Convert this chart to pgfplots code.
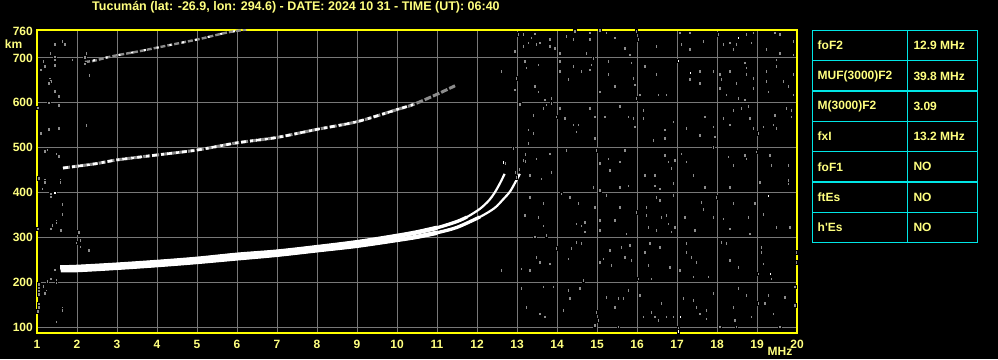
\documentclass[border=0pt]{standalone}
\usepackage{fontspec}
\setmainfont{Liberation Sans}
\newfontfamily\lab{Liberation Sans}
\usepackage{pgfplots}
\pgfplotsset{compat=1.18}
\definecolor{ylab}{RGB}{255,255,128}
\definecolor{yframe}{RGB}{255,255,0}
\definecolor{gridgray}{RGB}{120,120,120}
\definecolor{noisegray}{RGB}{140,140,140}
\definecolor{cyanb}{RGB}{0,230,230}
\begin{document}
\begin{tikzpicture}[x=1pt,y=1pt]
\useasboundingbox (0,0) rectangle (998,359);
\fill[black] (0,0) rectangle (998,359);
\node[anchor=base west, inner sep=0pt, text=ylab, font=\fontsize{12.5}{14}\selectfont\lab\bfseries] at (92,348) {Tucumán (lat: -26.9, lon: 294.6) - DATE: 2024 10 31 - TIME (UT): 06:40};
\begin{axis}[at={(37pt,26pt)}, anchor=south west, scale only axis,
  width=760pt, height=303pt,
  xmin=1, xmax=20, ymin=88, ymax=762,
  xtick={1,...,20}, ytick={100,200,300,400,500,600,700,760},
  grid=major, major grid style={draw=gridgray, line width=1pt},
  axis line style={draw=yframe, line width=1.3pt},
  major tick length=0pt, tick style={draw=none},
  ticklabel style={text=ylab, font=\fontsize{12}{14}\selectfont\lab\bfseries},
  /pgf/number format/assume math mode=true,
  /pgf/number format/1000 sep={},
  xticklabel style={anchor=north, inner sep=0pt, yshift=-7pt},
  yticklabel style={anchor=east, inner sep=0pt, xshift=-4pt},
  noise/.style={only marks, mark=square*, mark size=1.15pt, mark options={draw=none, fill=noisegray, yscale=1.6}},
  wnoise/.style={only marks, mark=square*, mark size=1.1pt, mark options={draw=none, fill=white, yscale=1.4}},
]
% noise, upper right region
\addplot[noise] coordinates {
(13.03,752) (13.15,752) (13.44,754) (13.36,745) (13.28,734) (13.48,730) (13.57,734) (13.15,726) (12.94,715)
(13.82,741) (13.82,726) (13.94,722) (14.07,711) (14.23,748) (14.4,741) (14.44,760) (14.82,756) (14.82,741)
(14.73,711) (15.07,761) (15.23,756) (15.44,745) (15.69,722) (15.82,707) (15.98,760) (16.03,741) (16.48,726)
(17.07,756) (17.11,730) (17.32,756) (17.32,719) (17.65,737) (18.03,752) (18.15,730) (18.32,734) (18.4,719)
(18.48,730) (18.73,752) (18.9,756) (18.86,734) (19.23,719) (19.44,756) (19.57,752) (19.57,711) (19.9,737) (19.9,707)
(12.61,670) (12.98,655) (12.94,629) (13.19,693) (13.23,678) (13.53,685) (13.44,637) (13.53,625) (13.69,607)
(13.86,610) (14.07,693) (14.07,670) (14.28,652) (14.4,681) (14.61,670) (14.82,674) (14.86,685) (14.9,700)
(15.07,625) (15.28,693) (15.28,663) (15.44,637) (15.86,689) (15.9,655) (15.94,640) (15.98,610) (16.07,618)
(16.19,681) (16.48,663) (16.53,618) (16.73,618) (17.32,652) (17.57,670) (17.57,644) (17.9,670) (18.07,663)
(18.11,652) (18.07,633) (18.23,618) (18.32,670) (18.48,644) (18.53,610) (18.69,689) (18.73,678) (18.73,663)
(18.9,655) (18.9,633) (18.69,607) (19.23,648) (19.28,625) (19.48,681) (19.48,696) (19.65,648) (19.78,637)
(19.9,663) (19.9,618) (19.23,670)
(13.07,597) (13.4,573) (13.65,588) (13.73,596) (13.86,599) (13.98,569) (14.07,588) (14.19,566) (14.4,551)
(14.53,551) (14.48,536) (14.82,588) (14.94,569) (14.94,521) (15.19,569) (15.57,592) (15.78,569) (15.9,566)
(15.94,547) (16.15,584) (16.15,566) (16.4,517) (16.69,540) (16.69,521) (16.9,558) (17.23,543) (17.57,528)
(17.69,569) (17.9,547) (17.94,525) (18.15,566) (18.32,551) (18.4,584) (18.61,588) (18.78,592) (18.82,566)
(18.9,543) (19.03,532) (19.15,547) (19.4,551) (19.44,573) (19.48,543) (19.73,588) (19.86,584) (19.86,569)
(13.28,540) (13.4,532) (13.28,510)
(12.69,465) (12.9,499) (13.23,487) (13.15,472) (13.48,476) (13.82,487) (13.86,446) (14.23,495) (14.98,495)
(15.07,465) (15.28,476) (15.32,450) (15.57,469) (15.69,495) (16.19,439) (16.44,439) (16.69,484) (16.78,469)
(16.86,454) (16.94,472) (17.11,487) (17.23,469) (17.4,439) (17.9,502) (18.28,480) (18.4,461) (18.69,484)
(18.73,476) (18.98,491) (19.32,484) (19.36,461) (19.78,461) (19.78,428) (12.98,435) (13.32,439) (13.61,431)
(12.95,445) (13.05,452) (13.2,470) (13.2,485)
};
% noise, lower right region
\addplot[noise] coordinates {
(14.9,413) (15.07,405) (15.57,413) (15.78,416) (16.44,416) (16.57,409) (16.9,421) (17.69,413) (18.32,413)
(19.07,424) (19.78,420)
(13.32,390) (13.19,350) (13.65,376) (13.53,346) (13.65,327) (13.44,302) (13.73,305) (14.11,398) (14.32,390)
(14.53,376) (14.48,331) (14.61,327) (14.69,335) (14.69,313) (14.94,368) (15.07,339) (15.07,316) (15.23,394)
(15.44,339) (15.57,368) (15.73,309) (15.98,357) (16.23,368) (16.23,350) (16.28,324) (16.48,390) (16.57,383)
(16.48,316) (16.61,346) (16.73,350) (16.78,331) (16.86,313) (16.9,394) (16.94,324) (17.19,346) (17.44,316)
(17.61,379) (17.65,364) (17.9,346) (17.98,390) (18.15,342) (18.4,376) (18.32,320) (18.78,346) (18.82,309)
(18.94,376) (19.15,353) (19.48,324) (19.82,324)
(12.61,228) (13.11,231) (13.32,228) (13.48,257) (13.57,246) (13.82,242) (13.98,276) (14.28,253) (14.36,276)
(14.48,290) (14.61,287) (14.65,205) (15.07,246) (15.15,253) (15.32,272) (15.36,239) (15.61,279) (15.69,257)
(15.82,283) (15.86,250) (16.03,209) (16.19,268) (16.32,287) (16.28,239) (16.36,209) (16.57,279) (16.82,235)
(17.07,228) (17.23,287) (17.23,268) (17.36,257) (17.4,213) (17.48,246) (17.78,213) (18.11,290) (18.23,287)
(18.32,250) (18.53,235) (19.11,279) (19.11,268) (19.15,242) (19.03,220) (19.36,209) (19.98,246) (19.98,268)
(13.11,187) (13.23,146) (13.57,131) (13.69,124) (13.65,191) (13.9,191) (14.15,139) (14.28,183) (14.32,165)
(14.57,187) (14.98,135) (15.03,117) (14.94,106) (15.23,168) (15.44,146) (15.53,165) (15.65,165) (15.78,183)
(16.07,172) (16.15,124) (16.36,135) (16.44,124) (16.53,117) (16.61,154) (16.73,124) (16.9,124) (17.15,165)
(17.4,161) (17.48,146) (17.57,131) (17.73,139) (17.73,120) (17.9,176) (18.07,102) (18.4,146) (18.44,117)
(18.53,187) (18.73,172) (18.86,124) (19.03,154) (19.19,154) (19.28,172) (19.4,131) (19.69,168) (19.94,191)
(19.94,150) (17.03,98) (15.53,102) (18.48,102) (19.57,102)
};
% noise, left region
\addplot[noise] coordinates {
(1.44,730) (1.63,737) (1.69,730) (1.33,711) (1.44,701) (1.44,696) (1.15,693) (1.19,685) (1.19,681) (1.09,674)
(1.44,683) (1.32,652) (1.34,648) (1.29,644) (1.44,626) (1.54,615) (1.29,600) (1.54,594) (1.02,589) (2.23,711)
(2.19,701) (2.19,687) (2.3,661) (1.88,696) (2.23,550) (1.29,541) (1.09,532) (1.54,544) (1.19,492) (1.25,496)
(1.48,487) (1.54,481) (1.04,433) (1.19,429) (1.19,424) (1.58,429) (1.58,424) (1.13,409) (1.34,396) (1.34,391)
(1.63,374) (1.63,352) (1.48,338) (1.48,333) (1.38,328) (1.34,320) (1.59,317) (1.02,320) (2.04,312) (2.08,295)
(1.98,289) (2.08,280) (2.29,272) (1.44,229) (1.34,209) (1.25,203) (1.48,205) (1.48,200) (1.04,196) (1.04,189)
(1.15,192) (1.04,181) (1.23,181) (1.19,177) (1.04,174) (1.04,153) (1.04,146) (1.63,144) (1.63,138) (1.02,137)
(1.48,113)
};
% white specks
\addplot[wnoise] coordinates {
(18.53,745) (17.03,693) (17.32,666) (19.28,394) (19.32,220) (17.07,124) (17.03,92) (1.44,401) (12.65,468)
};
% third hop trace
\addplot[draw=noisegray, line width=2.4pt, smooth, dash pattern=on 5pt off 2pt] coordinates {
(2.2,691) (2.45,694) (2.9,704) (3.57,715) (4.4,730) (5.07,742) (5.73,756) (6.23,763)
};
\addplot[draw=white, line width=2pt, smooth, dash pattern=on 2pt off 11pt] coordinates {
(2.4,694) (2.9,704) (3.57,715) (4.4,730) (5.07,742) (5.73,756) (6.23,763)
};
% second hop trace
\addplot[draw=noisegray, line width=3pt, smooth, dash pattern=on 7pt off 2pt] coordinates {
(1.65,455) (2,459) (2.5,465) (3,473) (4,484) (5,495) (6,511) (7,523) (8,541) (9,558) (10,585) (10.4,596) (11,619) (11.45,638)
};
\addplot[draw=white, line width=2.6pt, smooth, dash pattern=on 5pt off 4pt on 3pt off 3pt] coordinates {
(1.65,455) (2,459) (2.5,465) (3,473) (4,484) (5,495) (6,511) (7,523) (8,541) (9,558) (10,585) (10.4,596)
};
% first hop, ordinary trace
\addplot[draw=white, line width=2.2pt, smooth] coordinates {
(1.58,234) (2,235) (3,240) (4,246) (5,253) (6,262) (7,269) (8,279) (9,290) (10,304) (10.5,312) (11,322)
(11.5,336) (11.75,346) (12.07,364) (12.3,383) (12.44,400) (12.58,422) (12.69,442)
};
\addplot[draw=white, line width=3.3pt, smooth] coordinates {
(1.58,234) (2,235) (3,240) (4,246) (5,253) (6,262) (7,269) (8,279) (9,290) (10,304) (10.5,312) (11,322) (11.5,336) (11.75,346)
};
\addplot[draw=white, line width=4.4pt, smooth] coordinates {
(1.58,234) (2,235) (3,240) (4,246) (5,253) (6,262) (7,269) (8,279) (9,290) (10,304) (10.5,312) (11,322)
};
% first hop, extraordinary trace
\addplot[draw=white, line width=2.2pt, smooth] coordinates {
(1.6,228) (2,228) (3,233) (4,239) (5,246) (6,254) (7,262) (8,272) (9,282) (10,295) (10.5,302) (11,311)
(11.5,323) (12.07,346) (12.44,366) (12.65,385) (12.82,402) (12.95,422) (13.07,442)
};
\addplot[draw=white, line width=3.3pt, smooth] coordinates {
(1.6,228) (2,228) (3,233) (4,239) (5,246) (6,254) (7,262) (8,272) (9,282) (10,295) (10.5,302) (11,311) (11.5,323) (12.07,346)
};
\addplot[draw=white, line width=4.4pt, smooth] coordinates {
(1.6,228) (2,228) (3,233) (4,239) (5,246) (6,254) (7,262) (8,272) (9,282) (10,295) (10.5,302) (11,311)
};
\end{axis}
% axis unit labels
\node[text=ylab, font=\fontsize{12}{14}\selectfont\lab\bfseries, inner sep=0pt] at (13.5,314.5) {km};
\node[text=ylab, font=\fontsize{12}{14}\selectfont\lab\bfseries, inner sep=0pt] at (780,7.5) {MHz};
% parameter table
\draw[cyanb, line width=1.2pt] (812.3,328.5) rectangle (977.3,116.4);
\foreach \yy in {298.2,267.9,237.6,207.3,177.0,146.7} {\draw[cyanb, line width=1.2pt] (812.3,\yy) -- (977.3,\yy);}
\draw[cyanb, line width=1.2pt] (907.3,328.5) -- (907.3,116.4);
\begin{scope}[every node/.style={anchor=west, inner sep=0pt, text=ylab, font=\fontsize{12}{14}\selectfont\lab\bfseries}]
\node at (817.5,313.35) {foF2};        \node at (913.3,313.35) {12.9 MHz};
\node at (817.5,283.05) {MUF(3000)F2}; \node at (913.3,283.05) {39.8 MHz};
\node at (817.5,252.75) {M(3000)F2};   \node at (913.3,252.75) {3.09};
\node at (817.5,222.45) {fxI};         \node at (913.3,222.45) {13.2 MHz};
\node at (817.5,192.15) {foF1};        \node at (913.3,192.15) {NO};
\node at (817.5,161.85) {ftEs};        \node at (913.3,161.85) {NO};
\node at (817.5,131.55) {h'Es};        \node at (913.3,131.55) {NO};
\end{scope}
\end{tikzpicture}
\end{document}
